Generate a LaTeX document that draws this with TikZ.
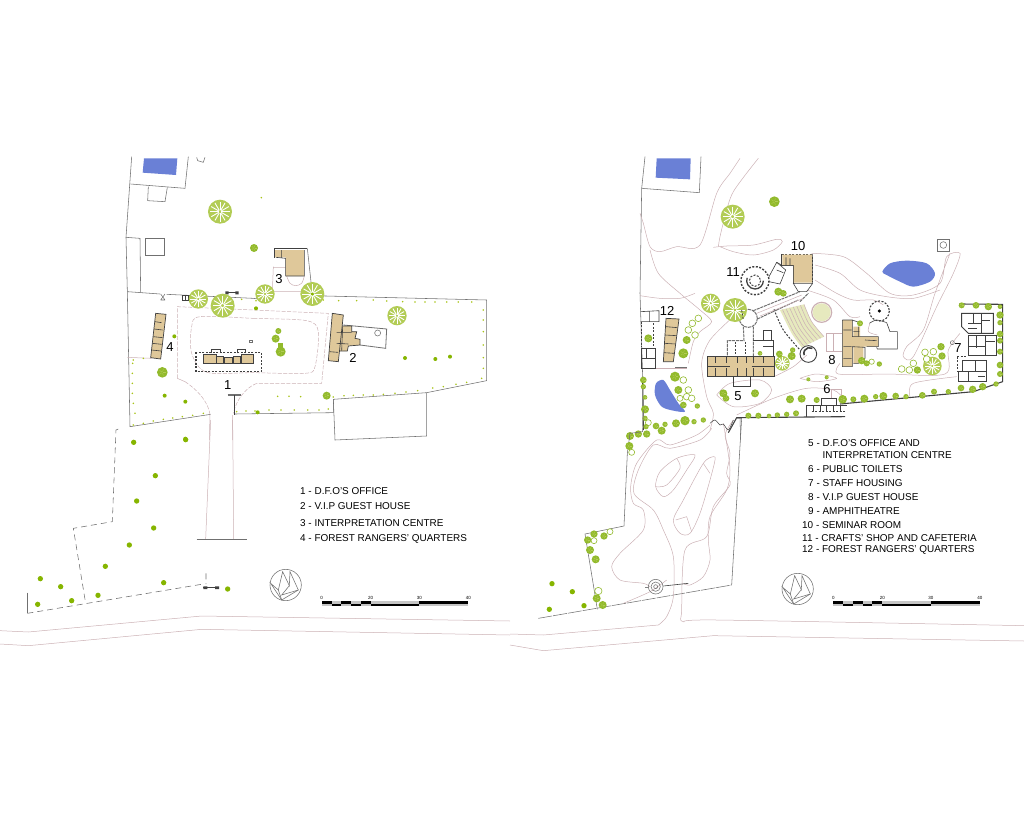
\documentclass[tikz,border=0pt]{standalone}
\usepackage{fontspec}
\setmainfont{Liberation Sans}
\usetikzlibrary{calc}

\definecolor{roadpink}{HTML}{CBB0B4}
\definecolor{wallgrey}{HTML}{707070}
\definecolor{walldark}{HTML}{404040}
\definecolor{tanroom}{HTML}{DFC89A}
\definecolor{pondblue}{HTML}{6A80D6}
\definecolor{treelime}{HTML}{B2CC55}
\definecolor{treegreen}{HTML}{92BA2C}
\definecolor{treesolid}{HTML}{86B500}
\definecolor{dotgreen}{HTML}{A8C418}
\definecolor{seatpale}{HTML}{E6E9BE}

\newcommand{\bigtree}[3]{
	\fill[treelime] (#1,#2) circle[radius=#3];
	\foreach \a in {0,30,...,330}
		\draw[spoke] (#1,#2) ++(\a:0.12*#3) -- ++(\a:0.72*#3);
}
\newcommand{\midtree}[3]{
	\fill[treegreen] (#1,#2) circle[radius=#3];
	\foreach \a in {0,72,...,288}
		\draw[fleck] (#1,#2) ++(\a:0.15*#3) -- ++(\a:0.5*#3);
}
\newcommand{\northmark}{
	\draw[wall] (857,495) circle[radius=47];
	\draw[wall] (812,490)--(835,510)--(848,455)--(868,497)--(870,455)--(895,510)--(845,540)--cycle;
	\draw[wall] (835,510)--(845,540) (868,497)--(845,525)--(895,510);
}
\newcommand{\scalebar}{
	\fill[gray!45] (965,544) rectangle (1405,558);
	\foreach \a/\b/\c in {965/995/544,995/1024/551,1024/1053/544,1053/1082/551,1082/1112/544,1112/1258/551,1258/1405/544}
		\fill[black] (\a,\c) rectangle (\b,\c+7);
	\foreach \n/\x in {0/965,20/1112,30/1258,40/1405}
		\node[scalenum] at (\x,534) {\n};
}

\begin{document}
\begin{tikzpicture}[x=1pt,y=-1pt]
\tikzset{
	wall/.style = {draw=wallgrey, line width=.55pt},
	site edge/.style = {draw=walldark, line width=1.1pt},
	road/.style = {draw=roadpink, line width=.5pt},
	dashroad/.style = {draw=roadpink, line width=.5pt, dash pattern=on 4pt off 1.5pt},
	building/.style = {fill=tanroom, draw=walldark, line width=.7pt},
	studs/.style = {draw=walldark, line width=.8pt, dash pattern=on 2pt off 1.5pt},
	room/.style = {draw=walldark, line width=.6pt},
	shell/.style = {draw=wallgrey, line width=1pt, dash pattern=on 3pt off .8pt},
	pond/.style = {fill=pondblue},
	spoke/.style = {draw=white, line width=.9pt},
	fleck/.style = {draw=treelime, line width=.4pt},
	hollow tree/.style = {draw=treegreen, line width=.6pt, fill=white},
	plan label/.style = {font=\fontsize{13}{15}\selectfont, inner sep=0pt},
	key/.style = {font=\fontsize{9.95}{11}\selectfont, anchor=west, inner sep=0pt},
	scalenum/.style = {font=\fontsize{4.5}{5}\selectfont, inner sep=0pt},
	north west/.style = {shift={(120,150)}, x=.33333pt, y=-.33333pt},
	north east/.style = {shift={(620,150)}, x=.33333pt, y=-.33333pt},
	south west/.style = {shift={(0,420)}, x=.33333pt, y=-.33333pt},
	south east/.style = {shift={(510,410)}, x=.33333pt, y=-.33333pt},
}

\useasboundingbox (0,0) rectangle (1024,819);

\begin{scope}[north west]
	\fill[pond] (72,25)--(172,25)--(168,75)--(68,68)--cycle;
	\draw[wall] (35,20)--(18,262)--(22,425)--(30,830)--(272,793);
	\draw[wall] (32,102)--(195,115)--(205,20);
	\draw[wall] (85,110)--(83,152)--(135,155)--(142,112);
	\draw[wall] (230,22)--(233,32)--(250,37)--(255,22);
	\draw[wall] (77,265) rectangle (133,317);
	\draw[wall] (18,262)--(60,265)--(62,428);
	\draw[wall] (22,425)--(120,432) (140,433)--(400,445)--(455,452) (577,437)--(1100,450)--(1100,692)--(920,728)--(640,748)--(645,870)--(920,858)--(920,728);
	\draw[wall] (640,748)--(640,788)--(345,792);
	\draw[wall] (122,450)--(135,432) (122,432)--(135,450) (122,450)--(135,450);
	\draw[room] (188,436) rectangle (212,450) (196,436)--(196,450) (204,436)--(204,450);
	\draw[room] (318,428)--(355,428);
	\fill[walldark] (316,424) rectangle (326,433) (346,424) rectangle (356,433);
	\draw[road] (172,685)--(195,695);
	\draw[dashroad] (195,695) .. controls (240,725) and (265,760) .. (270,793);
	\draw[road] (270,793)--(268,870) (337,795)--(337,870);
	\draw[dashroad] (172,685)--(172,470)--(625,490)--(605,700)--(410,700);
	\draw[dashroad] (410,700) .. controls (380,712) and (350,745) .. (340,790);
	\draw[dashroad] plot[smooth cycle] coordinates {(240,500) (400,505) (560,512) (595,545) (585,650) (555,670) (400,668) (260,667) (215,610) (215,530)};
	\draw[road] (22,622)--(95,625);
	\draw[wall] (562,295)--(577,432);
	\draw[road] (460,350)--(457,425)--(545,425) (460,352)--(497,352);
	\draw[road] plot[smooth] coordinates {(500,378) (510,400) (527,407) (545,400) (553,378)};
	\draw[room] (462,296)--(562,296) (462,296)--(462,325);
	\fill[tanroom] (497,300) rectangle (552,378) (465,300) rectangle (497,322);
	\draw[room] (497,378)--(553,378)--(553,300) (497,325)--(497,378) (468,322)--(497,325) (485,322)--(485,300);
	\draw[studs, line width=1.1pt] (228,607) rectangle (424,665);
	\path[building] (250,612) rectangle (288,640) (290,620) rectangle (310,640) (312,622) rectangle (338,640) (340,620) rectangle (362,640) (364,612) rectangle (400,640);
	\draw[room] (275,610)--(275,597)--(300,597)--(300,610) (352,610)--(352,597)--(375,597)--(375,610);
	\draw[wall] (388,572) rectangle (396,578);
	\draw[wall, line width=.8pt] (670,525)--(800,537)--(797,595)--(720,585);
	\draw[wall] (773,549) circle[radius=9];
	\path[building] (652,528)--(695,528)--(695,545)--(710,545)--(705,565)--(720,568)--(720,585)--(685,588)--(682,603)--(650,603)--cycle;
	\path[building] (637,490)--(670,495)--(655,635)--(625,632)--cycle;
	\draw[room] (668,530)--(665,602) (650,548)--(695,548) (650,580)--(685,582) (628,605)--(654,607);
	\path[building] (107,490)--(138,493)--(122,627)--(92,623)--cycle;
	\draw[room] (105,515)--(125,518) (102,537)--(128,540) (100,560)--(128,563) (97,580)--(125,583) (95,600)--(123,603);
	\draw[wallgrey, line width=1.4pt] (323,735)--(362,735);
	\draw[walldark, line width=.7pt] (343,735)--(343,795);
	\bigtree{300}{185}{36}
	\bigtree{235}{447}{29}
	\bigtree{308}{467}{36}
	\bigtree{435}{432}{29}
	\bigtree{577}{432}{36}
	\bigtree{831}{497}{29}
	\fill[treesolid] (577,432) circle[radius=5];
	\midtree{402}{294}{12}
	\midtree{127}{667}{16}
	\midtree{620}{737}{12}
	\midtree{475}{543}{9}
	\midtree{467}{566}{12}
	\midtree{482}{605}{15}
	\fill[treegreen] (474,580) rectangle (490,600);
	\foreach \x/\y in {408/475,163/559,134/737,196/755,855/624,946/627,990/620,413/787,196/866}
		\fill[treesolid] (\x,\y) circle[radius=6];
	\foreach \x/\y in {424/143,365/448,408/452,610/450,656/452,710/452,760/450,800/453,848/455,885/456,915/456,945/456,980/456,1015/456,1055/456,1090/480,1090/510,1090/545,1090/585,1090/623,1090/655,1085/685,1040/697,1008/703,970/710,938/714,893/722,858/726,825/730,790/733,760/735,730/735,700/736,672/737,640/741,473/739,507/739,542/740,350/785,378/783,405/783,447/780,483/780,523/780,563/780,597/780,625/777,40/630,70/625,38/640,37/670,37/700,37/730,40/760,45/790,40/825,70/820,100/813,130/808,158/804,187/800,218/796,250/790}
		\fill[dotgreen] (\x,\y) circle[radius=2.6];
\end{scope}

\begin{scope}[south west]
	\draw[road] (632,0)--(617,357) (698,0)--(701,357);
	\draw[wall] (590,357)--(742,357);
	\draw[wall, dash pattern=on 6pt off 4pt] (355,27)--(348,30)--(337,305)--(220,325)--(257,550);
	\draw[wall, dash pattern=on 6pt off 4pt] (82,580)--(610,492) (618,460)--(618,492);
	\draw[wall] (82,518)--(82,580);
	\draw[room] (610,503)--(655,503);
	\fill[walldark] (610,499) rectangle (622,507) (645,499) rectangle (657,507);
	\draw[road] (0,632)--(85,636)--(605,588)--(1530,603);
	\draw[road] (0,672)--(85,677)--(605,628)--(1530,645);
	\foreach \x/\y in {401/67,557/59,466/167,410/243,461/324,388/375,316/439,121/476,182/500,113/553,215/542,294/526,491/488,683/507}
		\fill[treesolid] (\x,\y) circle[radius=8];
	\northmark
	\scalebar
\end{scope}

\begin{scope}[north east]
	\fill[pond] (110,25)--(212,25)--(210,88)--(107,83)--cycle;
	\draw[wall] (75,20)--(65,115)--(238,128)--(243,20);
	\draw[wall] (65,115)--(60,430)--(68,680);
	\draw[road] plot[smooth] coordinates {(360,25) (330,70) (290,130) (240,285) (170,290) (120,305) (90,290) (70,220) (60,190)};
	\draw[road] plot[smooth] coordinates {(415,25) (340,125) (315,200) (300,260) (295,290)};
	\draw[road] plot[smooth] coordinates {(280,292) (320,288) (400,285) (470,268) (487,275) (460,300) (400,315) (340,305) (300,290)};
	\draw[road] plot[smooth] coordinates {(90,300) (115,370) (180,430) (240,480) (275,515) (240,545) (220,575) (205,640)};
	\draw[road] plot[smooth] coordinates {(60,437) (120,445) (180,445) (225,430)};
	\draw[road] plot[smooth] coordinates {(575,310) (670,320) (740,370) (810,430) (880,435) (960,400) (980,320) (1020,310) (1000,370) (950,470) (880,620) (850,620) (860,590) (910,540) (945,430) (990,310)};
	\draw[road] plot[smooth] coordinates {(585,345) (660,370) (720,420) (800,440) (880,445) (960,420)};
	\draw[road] plot[smooth] coordinates {(585,390) (650,430) (700,450) (760,450) (790,465)};
	\draw[road] plot[smooth] coordinates {(560,420) (640,450) (690,500) (720,500)};
	\draw[road] plot[smooth] coordinates {(660,640) (655,672) (800,672) (975,672) (985,600) (1020,550)};
	\draw[road] plot[smooth] coordinates {(1010,680) (880,700) (870,740)};
	\draw[road] plot[smooth] coordinates {(350,795) (460,745) (560,715) (640,720) (670,745)};
	\draw[road] plot[smooth] coordinates {(340,500) (270,570) (245,640) (260,740) (280,790) (270,840)};
	\draw[road] plot[smooth] coordinates {(290,735) (330,700) (420,690) (455,720) (420,760) (340,770) (290,735)};
	\draw[road] plot[smooth] coordinates {(462,680) (520,650) (560,615)};
	\draw[road] plot[smooth] coordinates {(540,685) (590,672) (650,685) (590,695) (540,685)};
	\draw[road] (65,655)--(200,655) (620,550)--(620,605)--(665,605) (640,550)--(640,605);
	\draw[wallgrey, line width=1.4pt] (165,652)--(200,652);
	\path[pond] plot[smooth cycle] coordinates {(787,365) (810,340) (860,332) (920,340) (945,370) (930,395) (880,410) (840,395) (800,375)};
	\path[pond] plot[smooth cycle] coordinates {(108,700) (130,690) (150,720) (175,760) (195,785) (160,782) (125,770) (105,735)};
	\draw[site edge] (1018,462)--(1148,463)--(1148,695)--(1060,725)--(660,762);
	\draw[site edge] (675,800)--(350,803)--(325,848);
	\draw[site edge] (68,680)--(70,840);
	\draw[wall] (360,805)--(362,870);
	\draw[wall, line width=.8pt] (953,268) rectangle (988,303);
	\draw[wall] (970,285) circle[radius=10];
	\draw[road] (620,550)--(665,550);
	\draw[studs] (485,312)--(578,312);
	\draw[road, line width=1.2pt] (605,487) circle[radius=30];
	\fill[seatpale] (605,487) circle[radius=27];
	\coordinate (inner a) at (480,480);
	\coordinate (inner b) at (515,550);
	\coordinate (inner c) at (545,592);
	\coordinate (outer a) at (552,463);
	\coordinate (outer b) at (575,515);
	\coordinate (outer c) at (612,560);
	\fill[seatpale] plot[smooth] coordinates {(inner a) (inner b) (inner c)} -- plot[smooth] coordinates {(outer c) (outer b) (outer a)} -- cycle;
	\foreach \t in {.1,.25,.4,.55,.7,.85,1}
		\draw[road] plot[smooth] coordinates {($(inner a)!\t!(outer a)$) ($(inner b)!\t!(outer b)$) ($(inner c)!\t!(outer c)$)};
	\draw[studs, line width=1pt] plot[smooth] coordinates {(462,478) (490,540) (540,600)};
	\draw[shell] (400,482)--(540,425) (412,507)--(470,480) (540,455)--(565,430) (470,480)--(535,450);
	\draw[road] (410,490)--(545,435) (420,498)--(550,445);
	\draw[room, line width=.9pt] (565,612) circle[radius=25];
	\draw[room, line width=1.6pt] (577,595) arc[start angle=-60, end angle=-200, radius=17];
	\draw[shell] (385,505) circle[radius=27];
	\draw[shell] (370,530)--(372,572)--(322,572)--(322,620) (400,530)--(400,620);
	\draw[room, line width=1pt] (400,572)--(460,572)--(460,620) (430,572)--(430,540)--(455,540)--(455,572) (430,590)--(460,590);
	\draw[studs] (345,575)--(345,618) (375,575)--(375,618);
	\path[building] (262,620) rectangle (462,680);
	\foreach \x in {285,320,352,378,400,430}
		\draw[room, line width=1pt] (\x,622)--(\x,640) (\x,655)--(\x,678);
	\draw[room] (262,650)--(330,650) (395,650)--(462,650);
	\draw[room] (340,680)--(340,710)--(392,710)--(392,680);
	\draw[studs, line width=1.4pt] (405,392) circle[radius=42];
	\draw[room, line width=1.3pt] (430,392) arc[start angle=0, end angle=200, radius=25];
	\draw[studs, line width=1pt] (405,392) circle[radius=17];
	\draw[room] (447,380)--(470,337)--(497,360)--(480,402)--(447,395);
	\draw[room] (470,360)--(490,368) (470,337)--(485,345);
	\draw[room] (485,312)--(485,345)--(520,345)--(520,398);
	\fill[tanroom] (487,314) rectangle (520,345) (520,314) rectangle (577,398);
	\draw[room] (578,312)--(578,400)--(520,400)--(535,425)--(560,425)--(578,400) (520,345)--(520,400) (498,322)--(498,345) (510,325)--(510,345);
	\draw[studs] (578,320)--(578,395);
	\fill[tanroom] (667,510) rectangle (697,650) (680,560) rectangle (775,590) (700,530) rectangle (720,560) (700,590) rectangle (730,640);
	\draw[room] (667,510)--(697,510)--(725,520) (667,510)--(667,650)--(697,650)--(697,590)--(735,592)--(735,625)--(715,640)--(700,640) (697,510)--(697,560)--(775,560)--(775,590)--(740,590);
	\draw[room] (670,540)--(695,540) (670,590)--(695,590) (670,625)--(695,625) (715,530)--(715,560) (700,545)--(718,545) (735,570)--(770,572);
	\draw[studs, line width=1.1pt] (778,483) circle[radius=30];
	\fill (778,483) circle[radius=5];
	\draw[room] (800,518)--(810,545)--(832,545)--(832,597)--(772,597)--(770,592);
	\draw[room] plot[smooth] coordinates {(748,520) (770,510) (800,518)};
	\draw[road] plot[smooth] coordinates {(750,520) (745,545) (772,555)};
	\draw[room, line width=.9pt] (1025,490)--(1120,490)--(1120,550)--(1045,550)--(1025,530)--cycle;
	\draw[room] (1060,490)--(1060,520) (1045,520)--(1085,520) (1085,490)--(1085,550) (1085,510)--(1110,510) (1045,535)--(1070,535);
	\draw[room, line width=.9pt] (1045,555)--(1130,555)--(1130,615)--(1045,615)--cycle;
	\draw[room] (1070,555)--(1070,595) (1097,555)--(1097,615) (1045,590)--(1097,590) (1097,575)--(1125,575);
	\draw[room, line width=.9pt] (1028,630)--(1100,630)--(1100,695)--(1015,695)--(1015,665)--(1028,665)--cycle;
	\draw[room] (1065,630)--(1065,665) (1028,665)--(1100,665) (1045,665)--(1045,695) (1075,680)--(1095,680);
	\draw[studs] (1012,620)--(1040,620) (1012,620)--(1012,665);
	\draw[wall] (997,578) circle[radius=6];
	\path[building] (138,505)--(177,507)--(160,635)--(130,635)--cycle;
	\draw[room] (138,530)--(172,533) (135,555)--(170,557) (133,580)--(167,582) (131,608)--(163,610);
	\draw[room] (62,485)--(117,482)--(117,515)--(62,515) (88,485)--(88,515);
	\draw[studs] (65,515)--(65,590) (100,520)--(100,590);
	\draw[room] (65,595)--(105,595)--(105,655)--(65,655)--cycle (80,595)--(80,625) (65,625)--(105,625);
	\draw[room] (560,765) -- (680,765) (560,765)--(560,800);
	\foreach \x in {580,600,620,640,660}
		\draw[room] (\x,765)--(\x,785);
	\draw[studs] (575,785)--(675,785);
	\draw[room] (605,765)--(605,745)--(650,745)--(650,765);
	\draw[road] (635,745)--(635,717)--(665,717)--(665,740);
	\bigtree{338}{200}{36}
	\bigtree{272}{460}{29}
	\bigtree{345}{480}{36}
	\bigtree{487}{640}{22}
	\bigtree{937}{648}{28}
	\draw[studs] (365,480)--(370,510);
	\foreach \x/\y/\r in {235/505/10,217/520/10,205/540/10,225/555/10,190/690/10,205/720/10,200/740/10,215/745/10,180/745/9,85/818/9,915/607/10,940/605/10,920/627/10,880/640/10,845/657/10,868/660/10,755/635/8}
		\draw[hollow tree] (\x,\y) circle[radius=\r];
	\foreach \x/\y/\r in {463/155/16,475/425/12,490/430/10,85/565/12,200/570/12,190/610/15,165/680/15,175/720/12,190/765/10,232/768/8,195/812/14,168/820/12,222/815/8,250/810/8,108/828/10,125/842/12,135/823/8,70/690/10,70/710/8,75/742/7,75/778/12,75/805/8,78/830/8,80/852/11,55/852/11,30/858/12,310/730/12,318/745/10,405/730/12,420/610/7,478/612/10,515/618/12,518/600/8,385/797/9,415/797/9,447/798/7,472/795/8,500/793/8,528/790/9,510/748/12,545/746/12,590/750/9,668/748/13,700/748/9,733/746/12,767/740/8,790/738/12,827/738/10,858/740/8,907/736/10,942/725/9,985/725/8,1023/714/10,1058/718/11,1088/710/11,1128/702/8,963/590/11,966/618/11,892/660/11,725/632/11,740/640/9,778/642/8,720/520/9,565/688/6,620/682/6,1025/466/9,1068/466/10,1105/470/11,1140/470/7,1140/495/11,1140/518/8,1140/552/10,1140/572/9,1140/605/9,1140/645/10,1140/672/9}
		{\midtree{\x}{\y}{\r}}
\end{scope}

\begin{scope}[south east]
	\draw[wall] (400,0)--(398,65)--(360,70)--(352,130)--(342,348)--(225,372)--(262,598);
	\draw[wall, dash pattern=on 14pt off 1pt] (85,625)--(665,525);
	\draw[wall] (665,525)--(695,25)--(680,25);
	\draw[road] plot[smooth] coordinates {(600,45) (560,75) (480,105) (440,90) (380,160) (362,230) (370,280) (400,300) (400,360) (330,430) (305,470) (330,510) (400,520) (420,530)};
	\draw[road] plot[smooth] coordinates {(605,55) (570,90) (480,115) (430,105) (385,180) (372,250) (430,300) (460,360) (490,440) (490,560) (470,620) (445,645)};
	\draw[road] (445,645)--(100,675)--(0,672);
	\draw[road] plot[smooth] coordinates {(640,40) (650,100) (660,180) (650,240) (600,320) (595,390) (600,450) (580,500) (540,525) (520,520)};
	\draw[road] plot[smooth] coordinates {(670,30) (645,75) (660,130) (650,190) (660,225) (610,290) (590,380) (525,420) (515,600) (520,635) (620,630) (1542,647)};
	\draw[road] plot[smooth] coordinates {(470,510) (420,545) (340,580)};
	\draw[road] (0,705)--(100,722)--(610,677)--(1542,693);
	\draw[road] plot[smooth cycle] coordinates {(555,135) (500,145) (450,185) (437,230) (460,260) (490,240) (530,180)};
	\draw[road] plot[smooth cycle] coordinates {(610,140) (580,160) (520,270) (490,330) (510,370) (540,370) (570,310) (600,210) (615,150)};
	\draw[road] plot[smooth] coordinates {(500,145) (510,175) (470,225) (437,230)};
	\draw[road] (580,160)--(600,190) (497,330)--(530,320)--(545,365);
	\draw[room] (405,533)--(415,533) (460,528)--(535,520);
	\draw[wall] (437,530) circle[radius=22] (437,530) circle[radius=14];
	\draw[wall] (437,530) circle[radius=6];
	\draw[walldark, line width=.5pt] plot[smooth] coordinates {(600,40) (615,30) (630,45) (640,42) (655,60) (670,30)};
	\foreach \x/\y/\r in {300/365/9,252/392/9,265/543/11,365/127/9}
		\draw[hollow tree] (\x,\y) circle[radius=\r];
	\foreach \x/\y/\r in {252/372/11,282/378/11,233/390/11,240/420/12,257/448/12,260/565/12,278/585/12,358/108/12}
		{\midtree{\x}{\y}{\r}}
	\foreach \x/\y in {126/521,187/545,222/587,118/598}
		\fill[treesolid] (\x,\y) circle[radius=8];
\end{scope}

\begin{scope}[shift={(512,424)}, x=.33333pt, y=-.33333pt]
	\northmark
\end{scope}
\begin{scope}[shift={(511.6,420)}, x=.33333pt, y=-.33333pt]
	\scalebar
\end{scope}

\node[plan label] (one) at (227.7,385) {1};
\node[plan label] (two) at (353,358) {2};
\node[plan label] (three) at (279,279) {3};
\node[plan label] (four) at (170,347) {4};
\node[plan label] (five) at (738,396) {5};
\node[plan label] (six) at (827,389) {6};
\node[plan label] (seven) at (958,348.5) {7};
\node[plan label] (eight) at (832,360) {8};
\node[plan label] (ten) at (798,246) {10};
\node[plan label] (eleven) at (733,272) {11};
\node[plan label] (twelve) at (667,311) {12};

\foreach \n/\y/\t in {1/491/D.F.O'S OFFICE,2/506/V.I.P GUEST HOUSE,3/523/INTERPRETATION CENTRE,4/539/FOREST RANGERS' QUARTERS}
	\node[key] (key\n) at (300,\y) {\n{} - \t};

\foreach \n/\y/\t in {5/443/D.F.O'S OFFICE AND,6/469/PUBLIC TOILETS,7/483/STAFF HOUSING,8/497/V.I.P GUEST HOUSE,9/511/AMPHITHEATRE}
	\node[key] (key\n) at (808,\y) {\n{} - \t};
\node[key] (key5b) at (822.5,455) {INTERPRETATION CENTRE};
\foreach \n/\y/\t in {10/525/SEMINAR ROOM,11/538/CRAFTS' SHOP AND CAFETERIA,12/550/FOREST RANGERS' QUARTERS}
	\node[key] (key\n) at (802,\y) {\n{} - \t};

\end{tikzpicture}
\end{document}
